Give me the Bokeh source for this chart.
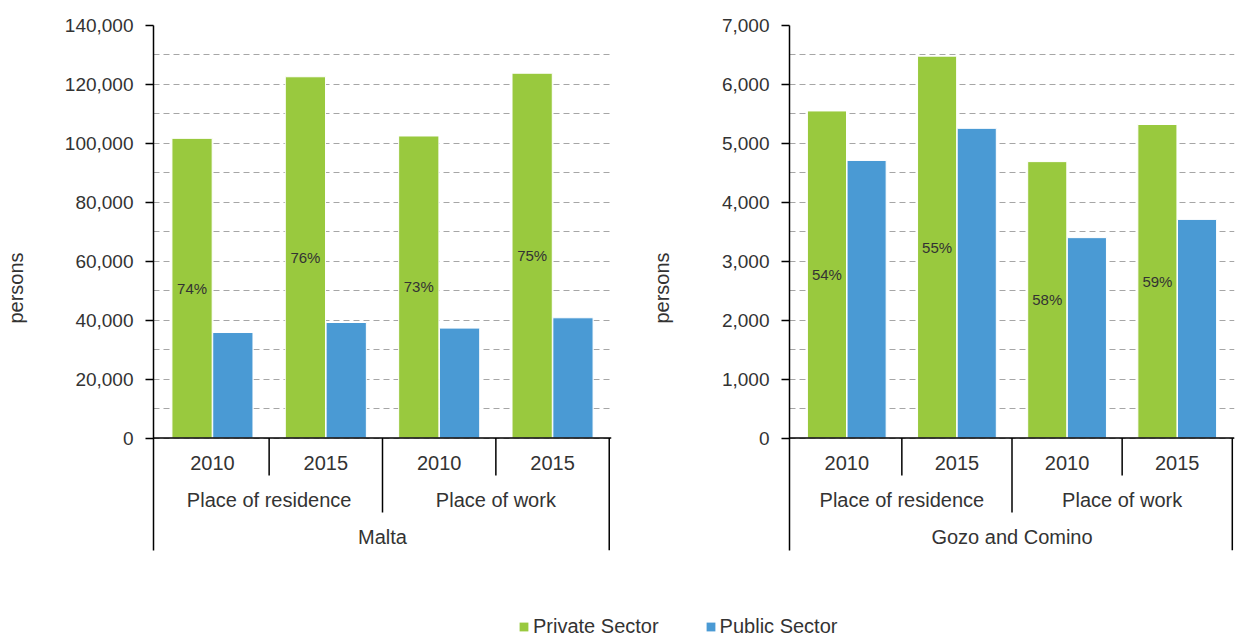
from bokeh.plotting import figure
from bokeh.models import (ColumnDataSource, FactorRange, Range1d, FixedTicker,
                          NumeralTickFormatter, Span, Legend, LegendItem)
from bokeh.layouts import column, row
from bokeh.transform import dodge
from bokeh.core.properties import value
from bokeh.embed import file_html
from bokeh.resources import INLINE

# ---------------- data ----------------
groups = ["Place of residence", "Place of work"]
years = ["2010", "2015"]
series = ["Private Sector", "Public Sector"]

malta_private = [101700, 122600, 102500, 123800]
malta_public = [35800, 39200, 37300, 40800]
malta_pct = ["74%", "76%", "73%", "75%"]
malta_ticks = [0, 20000, 40000, 60000, 80000, 100000, 120000, 140000]
malta_minor = [10000, 30000, 50000, 70000, 90000, 110000, 130000]

gozo_private = [5550, 6480, 4690, 5320]
gozo_public = [4710, 5255, 3400, 3710]
gozo_pct = ["54%", "55%", "58%", "59%"]
gozo_ticks = [0, 1000, 2000, 3000, 4000, 5000, 6000, 7000]
gozo_minor = [500, 1500, 2500, 3500, 4500, 5500, 6500]

# ---------------- style ----------------
FONT = "Liberation Sans"
TXT = "#333333"
GREEN = "#99C93E"
BLUE = "#4A9AD4"
GRID = "#A6A6A6"

H = 552
BELOW = 112.5 / 412.5      # category area below zero, as fraction of ymax
ROW_YEAR = 0.0618
ROW_GROUP = 0.1515
ROW_REGION = 0.2412
DIV_YEAR = 0.0909
DIV_GROUP = 0.1806


def make_chart(region, private, public, pct, ticks, minor, frame_w, b_left, b_right, lab_standoff):
    factors = [(region, g, y) for g in groups for y in years]
    ymax = ticks[-1]
    xr = FactorRange(*factors, factor_padding=0, subgroup_padding=0, group_padding=0,
                     range_padding=0.02, range_padding_units="absolute")
    p = figure(x_range=xr, y_range=Range1d(-ymax * BELOW, ymax),
               width=b_left + frame_w + b_right, height=H,
               min_border_left=b_left, min_border_right=b_right,
               min_border_top=25, min_border_bottom=2,
               x_axis_location=None, output_backend="svg", toolbar_location=None,
               outline_line_color=None, background_fill_color="white",
               border_fill_color="white")

    src = ColumnDataSource(dict(x=factors, private=private, public=public, pct=pct,
                                half=[v / 2 for v in private]))
    p.vbar(x=dodge("x", -0.18, range=p.x_range), top="private", width=0.355, source=src,
           fill_color=GREEN, line_color="white", line_width=1)
    p.vbar(x=dodge("x", 0.18, range=p.x_range), top="public", width=0.355, source=src,
           fill_color=BLUE, line_color="white", line_width=1)
    p.text(x=dodge("x", -0.18, range=p.x_range), y="half", text="pct", source=src,
           text_align="center", text_baseline="middle", text_font=value(FONT),
           text_font_size="15px", text_color=TXT)

    # zero line
    p.add_layout(Span(location=0, dimension="width", line_color="black", line_width=1.5))

    # category dividers
    dx, dy0, dy1 = [], [], []
    for g in groups:
        dx.append([region, g, years[0], 0.5]); dy0.append(0); dy1.append(-ymax * DIV_YEAR)
    dx.append([region, groups[0], years[-1], 0.5]); dy0.append(0); dy1.append(-ymax * DIV_GROUP)
    dx.append([region, groups[-1], years[-1], 0.5]); dy0.append(0); dy1.append(-ymax * BELOW)
    p.segment(x0=dx, x1=dx, y0=dy0, y1=dy1, line_color="black", line_width=1.5)

    # category labels
    p.text(x=factors, y=[-ymax * ROW_YEAR] * len(factors), text=[f[2] for f in factors],
           text_align="center", text_baseline="middle", text_font=value(FONT),
           text_font_size="20px", text_color=TXT)
    p.text(x=[(region, g) for g in groups], y=[-ymax * ROW_GROUP] * len(groups), text=groups,
           text_align="center", text_baseline="middle", text_font=value(FONT),
           text_font_size="20px", text_color=TXT)
    p.text(x=[region], y=[-ymax * ROW_REGION], text=[region],
           text_align="center", text_baseline="middle", text_font=value(FONT),
           text_font_size="20px", text_color=TXT)

    # y axis
    ax = p.yaxis[0]
    ax.ticker = FixedTicker(ticks=ticks, minor_ticks=minor)
    ax.formatter = NumeralTickFormatter(format="0,0")
    ax.axis_label = "persons"
    ax.axis_label_text_font = FONT
    ax.axis_label_text_font_size = "20px"
    ax.axis_label_text_font_style = "normal"
    ax.axis_label_text_color = TXT
    ax.axis_label_standoff = lab_standoff
    ax.major_label_text_font = FONT
    ax.major_label_text_font_size = "19px"
    ax.major_label_text_color = TXT
    ax.major_label_standoff = 12
    ax.axis_line_color = "black"
    ax.axis_line_width = 1.5
    ax.major_tick_line_color = "black"
    ax.major_tick_line_width = 1.5
    ax.major_tick_out = 8
    ax.major_tick_in = 0
    ax.minor_tick_line_color = None

    p.ygrid.grid_line_color = GRID
    p.ygrid.grid_line_dash = "6 4"
    p.ygrid.grid_line_width = 1
    p.ygrid.minor_grid_line_color = GRID
    p.ygrid.minor_grid_line_dash = "6 4"
    p.ygrid.minor_grid_line_width = 1
    p.xgrid.visible = False
    return p


p1 = make_chart("Malta", malta_private, malta_public, malta_pct, malta_ticks, malta_minor,
                frame_w=458, b_left=153, b_right=10, lab_standoff=35)
p2 = make_chart("Gozo and Comino", gozo_private, gozo_public, gozo_pct, gozo_ticks, gozo_minor,
                frame_w=445, b_left=168, b_right=2, lab_standoff=46)

# legend
pl = figure(width=1236, height=86, x_range=Range1d(0, 1), y_range=Range1d(0, 1),
            x_axis_location=None, y_axis_location=None, toolbar_location=None,
            output_backend="svg", min_border=0, outline_line_color=None)
pl.grid.visible = False
# legend-only renderers (their single bar lies outside the visible range)
r1 = pl.vbar(x=[10], top=[10], bottom=[9], width=0.5, fill_color=GREEN, line_color=None)
r2 = pl.vbar(x=[10], top=[10], bottom=[9], width=0.5, fill_color=BLUE, line_color=None)
leg = Legend(items=[LegendItem(label=series[0], renderers=[r1]),
                    LegendItem(label=series[1], renderers=[r2])],
             orientation="horizontal", location=(518, 0),
             glyph_width=11, glyph_height=11, label_standoff=4, spacing=46,
             padding=0, margin=0, border_line_color=None, background_fill_alpha=0,
             label_text_font=FONT, label_text_font_size="20px", label_text_color=TXT,
             label_height=20)
pl.add_layout(leg)

layout = column(row(p1, p2), pl)
open("out.html", "w").write(file_html(layout, INLINE))
